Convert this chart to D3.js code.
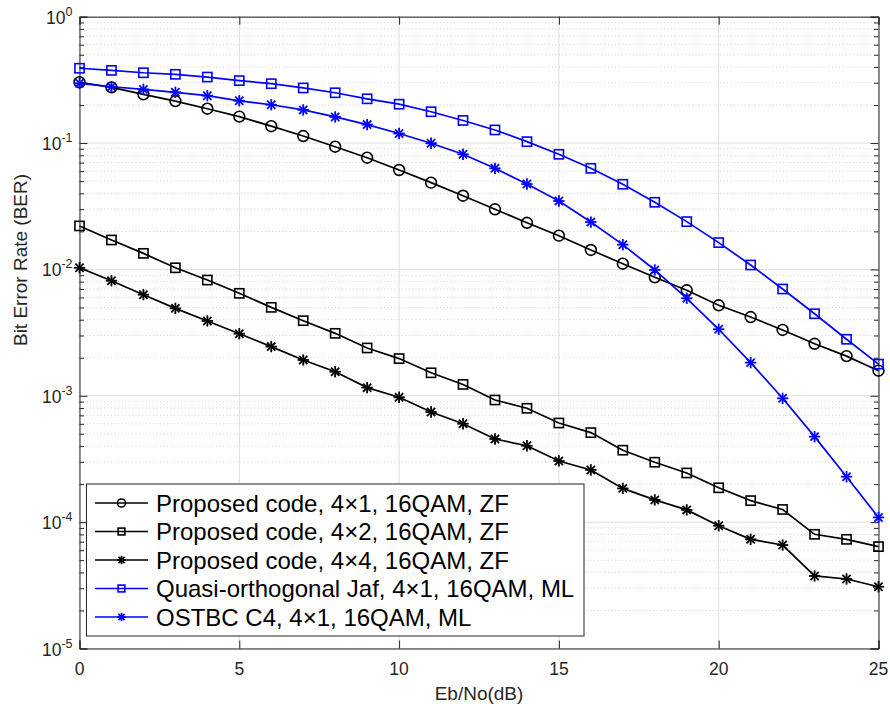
<!DOCTYPE html>
<html>
<head>
<meta charset="utf-8">
<script src="https://cdn.jsdelivr.net/npm/d3@7"></script>
<style>
  body { margin: 0; background: #fff; }
  svg { display: block; font-family: "Liberation Sans", Arial, Helvetica, sans-serif; }
</style>
</head>
<body>
<div id="chart"></div>
<script>
// Eb/No points (dB)
const snr = d3.range(0, 26);

// BER curves
const ber4x1ZF = [0.303, 0.276, 0.243, 0.215, 0.187, 0.162, 0.136, 0.1137, 0.0936, 0.0766,
  0.0612, 0.0486, 0.0383, 0.0299, 0.0234, 0.0185, 0.01425, 0.0111, 0.00866, 0.00684,
  0.0052, 0.0042, 0.00332, 0.00258, 0.00206, 0.00158];
const ber4x2ZF = [0.0221, 0.0171, 0.0134, 0.0103, 0.00824, 0.00647, 0.00501, 0.00393, 0.00312, 0.00239,
  0.00197, 0.00152, 0.00123, 0.000926, 0.000796, 0.000609, 0.000511, 0.000371, 0.000298, 0.000245,
  0.000187, 0.000148, 0.000126, 0.0000801, 0.0000731, 0.000064];
const ber4x4ZF = [0.0103, 0.00814, 0.00631, 0.00492, 0.00391, 0.0031, 0.00245, 0.00192, 0.00155, 0.00116,
  0.000973, 0.000744, 0.000601, 0.000455, 0.000402, 0.000305, 0.000259, 0.000185, 0.00015, 0.000125,
  0.0000937, 0.0000731, 0.0000659, 0.0000375, 0.0000355, 0.0000308];
const berJafML = [0.391, 0.376, 0.36, 0.35, 0.333, 0.312, 0.295, 0.273, 0.25, 0.224,
  0.203, 0.177, 0.151, 0.127, 0.1026, 0.0815, 0.0631, 0.0472, 0.034, 0.0239,
  0.0163, 0.01084, 0.007, 0.00446, 0.0028, 0.00178];
const berOstbcML = [0.297, 0.279, 0.266, 0.252, 0.237, 0.216, 0.201, 0.183, 0.161, 0.14,
  0.119, 0.0996, 0.0815, 0.0631, 0.0474, 0.0348, 0.0237, 0.0157, 0.0099, 0.00591,
  0.00336, 0.00183, 0.000955, 0.000475, 0.000229, 0.000109];

const seriesNames = [
  "Proposed code, 4×1, 16QAM, ZF",
  "Proposed code, 4×2, 16QAM, ZF",
  "Proposed code, 4×4, 16QAM, ZF",
  "Quasi-orthogonal Jaf, 4×1, 16QAM, ML",
  "OSTBC C4, 4×1, 16QAM, ML"
];
const seriesValues = [ber4x1ZF, ber4x2ZF, ber4x4ZF, berJafML, berOstbcML];
const seriesColors = ["#000000", "#000000", "#000000", "#0000ff", "#0000ff"];
const seriesMarkers = ["circle", "square", "asterisk", "square", "asterisk"];

const xTicks = [0, 5, 10, 15, 20, 25];
const yExponents = [0, -1, -2, -3, -4, -5];

const width = 890, height = 704;
const margin = { left: 79.5, right: 890 - 878.5, top: 16.7, bottom: 704 - 648.5 };

const svg = d3.select("#chart").append("svg")
  .attr("width", width)
  .attr("height", height);

const x = d3.scaleLinear().domain([0, 25]).range([margin.left, width - margin.right]);
const y = d3.scaleLog().domain([1e-5, 1]).range([height - margin.bottom, margin.top]);

const axisColor = "#262626";

// minor grid (dotted)
const minorVals = [];
for (let e = -5; e < 0; e++) {
  for (let m = 2; m <= 9; m++) minorVals.push(m * Math.pow(10, e));
}
svg.append("g").selectAll("line")
  .data(minorVals)
  .enter().append("line")
  .attr("x1", x(0)).attr("x2", x(25))
  .attr("y1", d => y(d)).attr("y2", d => y(d))
  .attr("stroke", "#c4c4c4")
  .attr("stroke-width", 0.8)
  .attr("stroke-dasharray", "1,2.5");

// major grid
svg.append("g").selectAll("line")
  .data(yExponents)
  .enter().append("line")
  .attr("x1", x(0)).attr("x2", x(25))
  .attr("y1", d => y(Math.pow(10, d))).attr("y2", d => y(Math.pow(10, d)))
  .attr("stroke", "#dedede")
  .attr("stroke-width", 1);
svg.append("g").selectAll("line")
  .data(xTicks)
  .enter().append("line")
  .attr("x1", d => x(d)).attr("x2", d => x(d))
  .attr("y1", y(1)).attr("y2", y(1e-5))
  .attr("stroke", "#dedede")
  .attr("stroke-width", 1);

// axes with inward ticks
const xAxisBottom = d3.axisBottom(x).tickValues(xTicks).tickSize(-8).tickFormat("");
const xAxisTop = d3.axisTop(x).tickValues(xTicks).tickSize(-8).tickFormat("");
const yMajor = yExponents.map(e => Math.pow(10, e));
const yAxisLeft = d3.axisLeft(y).tickValues(yMajor).tickSize(-8).tickFormat("");
const yAxisRight = d3.axisRight(y).tickValues(yMajor).tickSize(-8).tickFormat("");
const yMinorLeft = d3.axisLeft(y).tickValues(minorVals).tickSize(-4.5).tickFormat("");
const yMinorRight = d3.axisRight(y).tickValues(minorVals).tickSize(-4.5).tickFormat("");

function styleAxis(g) {
  g.selectAll("path").attr("stroke", axisColor).attr("stroke-width", 1);
  g.selectAll("line").attr("stroke", axisColor).attr("stroke-width", 1);
}

svg.append("g").attr("transform", `translate(0,${y(1e-5)})`).call(xAxisBottom).call(styleAxis);
svg.append("g").attr("transform", `translate(0,${y(1)})`).call(xAxisTop).call(styleAxis);
svg.append("g").attr("transform", `translate(${x(0)},0)`).call(yAxisLeft).call(styleAxis);
svg.append("g").attr("transform", `translate(${x(25)},0)`).call(yAxisRight).call(styleAxis);
svg.append("g").attr("transform", `translate(${x(0)},0)`).call(yMinorLeft).call(styleAxis)
  .select("path").remove();
svg.append("g").attr("transform", `translate(${x(25)},0)`).call(yMinorRight).call(styleAxis)
  .select("path").remove();

// x tick labels
svg.append("g").selectAll("text")
  .data(xTicks)
  .enter().append("text")
  .attr("x", d => x(d))
  .attr("y", y(1e-5) + 26)
  .attr("text-anchor", "middle")
  .attr("font-size", 17.5)
  .attr("fill", axisColor)
  .text(d => d);

// y tick labels 10^e
const yLab = svg.append("g").selectAll("text")
  .data(yExponents)
  .enter().append("text")
  .attr("x", x(0) - 7)
  .attr("y", d => y(Math.pow(10, d)) + 7)
  .attr("text-anchor", "end")
  .attr("font-size", 17.5)
  .attr("fill", axisColor);
yLab.append("tspan").text("10");
yLab.append("tspan").attr("dy", -8).attr("font-size", 12.5).text(d => d);

// axis labels
svg.append("text")
  .attr("x", (x(0) + x(25)) / 2)
  .attr("y", 700)
  .attr("text-anchor", "middle")
  .attr("font-size", 19)
  .attr("fill", axisColor)
  .text("Eb/No(dB)");

svg.append("text")
  .attr("transform", `translate(27,260) rotate(-90)`)
  .attr("text-anchor", "middle")
  .attr("font-size", 19)
  .attr("fill", axisColor)
  .text("Bit Error Rate (BER)");

// markers
function drawMarker(g, type, cx, cy, color, s) {
  if (type === "circle") {
    g.append("circle").attr("cx", cx).attr("cy", cy).attr("r", s)
      .attr("fill", "none").attr("stroke", color).attr("stroke-width", 1.6);
  } else if (type === "square") {
    g.append("rect").attr("x", cx - s * 0.85).attr("y", cy - s * 0.85)
      .attr("width", s * 1.7).attr("height", s * 1.7)
      .attr("fill", "none").attr("stroke", color).attr("stroke-width", 1.6);
  } else {
    const r = s * 1.05, q = s * 0.76;
    const d = [[0, -r, 0, r], [-r, 0, r, 0], [-q, -q, q, q], [-q, q, q, -q]];
    d.forEach(p => g.append("line")
      .attr("x1", cx + p[0]).attr("y1", cy + p[1])
      .attr("x2", cx + p[2]).attr("y2", cy + p[3])
      .attr("stroke", color).attr("stroke-width", 1.8));
  }
}

const line = d3.line().x(d => x(d[0])).y(d => y(d[1]));

seriesValues.forEach((vals, k) => {
  const pts = snr.map((s, i) => [s, vals[i]]);
  const g = svg.append("g");
  g.append("path").attr("d", line(pts))
    .attr("fill", "none")
    .attr("stroke", seriesColors[k])
    .attr("stroke-width", 1.7);
  pts.forEach(p => drawMarker(g, seriesMarkers[k], x(p[0]), y(p[1]), seriesColors[k], 5.4));
});

// legend
const lg = svg.append("g");
lg.append("rect")
  .attr("x", 86.5).attr("y", 484)
  .attr("width", 584 - 86.5).attr("height", 636 - 484)
  .attr("fill", "#fff")
  .attr("stroke", axisColor)
  .attr("stroke-width", 1);
seriesNames.forEach((name, k) => {
  const cy = 503 + k * 28.5;
  lg.append("line").attr("x1", 95).attr("x2", 148).attr("y1", cy).attr("y2", cy)
    .attr("stroke", seriesColors[k]).attr("stroke-width", 1.3);
  drawMarker(lg, seriesMarkers[k], 121.5, cy, seriesColors[k], 4);
  lg.append("text")
    .attr("x", 156).attr("y", cy + 8.5)
    .attr("font-size", 24)
    .attr("fill", "#000")
    .text(name);
});
</script>
</body>
</html>
